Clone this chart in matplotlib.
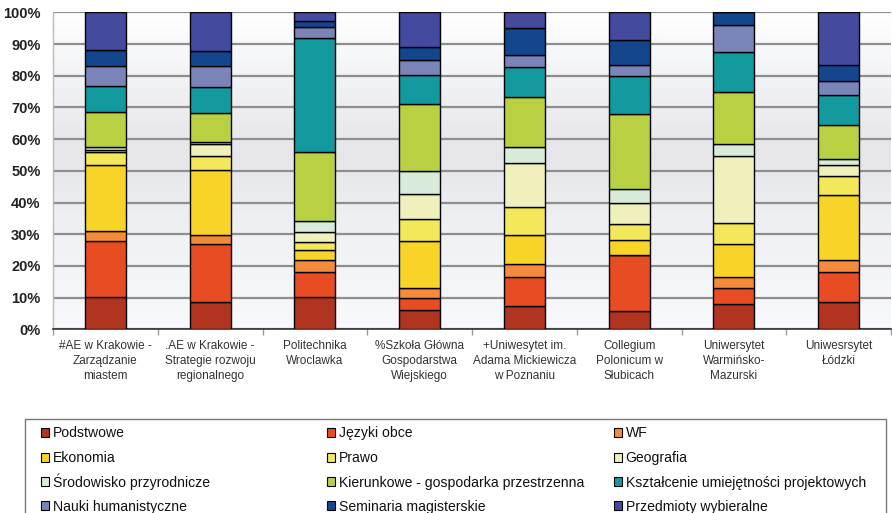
import numpy as np
import matplotlib
matplotlib.use("Agg")
import matplotlib.pyplot as plt
from matplotlib.patches import Rectangle, Patch
from matplotlib.colors import LinearSegmentedColormap

plt.rcParams['font.family'] = ['Liberation Sans', 'DejaVu Sans']

categories = [
    "#AE w Krakowie -\nZarządzanie\nmiastem",
    ".AE w Krakowie -\nStrategie rozwoju\nregionalnego",
    "Politechnika\nWroclawka",
    "%Szkoła Główna\nGospodarstwa\nWiejskiego",
    "+Uniwesytet im.\nAdama Mickiewicza\nw Poznaniu",
    "Collegium\nPolonicum w\nSłubicach",
    "Uniwersytet\nWarmińsko-\nMazurski",
    "Uniwesrsytet\nŁódzki",
]

series_names = [
    "Podstwowe", "Języki obce", "WF",
    "Ekonomia", "Prawo", "Geografia",
    "Środowisko przyrodnicze", "Kierunkowe - gospodarka przestrzenna",
    "Kształcenie umiejętności projektowych",
    "Nauki humanistyczne", "Seminaria magisterskie", "Przedmioty wybieralne",
]

podstawowe  = [10.2, 8.5, 10.2, 6.1, 7.4, 5.7, 7.9, 8.5]
jezyki      = [17.6, 18.3, 7.8, 3.9, 9.0, 17.6, 5.1, 9.5]
wf          = [3.2, 3.0, 4.0, 3.0, 4.2, 0.0, 3.4, 3.8]
ekonomia    = [20.8, 20.5, 3.0, 14.7, 9.1, 4.9, 10.6, 20.5]
prawo       = [4.0, 4.3, 2.4, 7.0, 9.0, 4.9, 6.4, 6.0]
geografia   = [0.7, 3.8, 3.4, 7.9, 13.9, 6.6, 21.2, 3.5]
srodowisko  = [1.0, 0.8, 3.5, 7.2, 4.9, 4.5, 3.8, 1.8]
kierunkowe  = [11.0, 9.1, 21.5, 21.4, 15.9, 23.8, 16.4, 11.0]
ksztalcenie = [8.2, 8.0, 36.0, 9.0, 9.2, 12.0, 12.6, 9.4]
nauki       = [6.4, 6.7, 3.7, 4.7, 3.8, 3.5, 8.5, 4.2]
seminaria   = [5.0, 4.9, 1.7, 4.0, 8.6, 7.8, 4.1, 5.1]
przedmioty  = [11.9, 12.1, 2.8, 11.1, 5.0, 8.7, 0.0, 16.7]

series_values = [podstawowe, jezyki, wf, ekonomia, prawo, geografia,
                 srodowisko, kierunkowe, ksztalcenie, nauki, seminaria, przedmioty]

colors = ["#B03420", "#E84C22", "#F48A3A",
          "#F8D428", "#F2E85A", "#F0F0BC",
          "#D8EAD8", "#B8D042", "#139A9E",
          "#7A84B8", "#14468E", "#444A9E"]

yticks = [0, 10, 20, 30, 40, 50, 60, 70, 80, 90, 100]
ytick_labels = ["0%", "10%", "20%", "30%", "40%", "50%", "60%", "70%", "80%", "90%", "100%"]

fig = plt.figure(figsize=(8.92, 5.13), dpi=100)
ax = fig.add_axes([53/892, 1 - 329.3/513, (891 - 53)/892, (329.3 - 12.3)/513])

# background gradient
cmap = LinearSegmentedColormap.from_list(
    "bg", [(0.0, "#F7F9FC"), (0.3, "#EFF1F5"), (0.55, "#E6E6EA"), (0.8, "#F2F3F6"), (1.0, "#FFFFFF")])
grad = np.linspace(0, 1, 256).reshape(-1, 1)
ax.imshow(grad, cmap=cmap, aspect="auto", extent=[-0.5, 7.5, 0, 100],
          origin="lower", zorder=0)

x = np.arange(len(categories))
bottom = np.zeros(len(categories))
for name, vals, c in zip(series_names, series_values, colors):
    v = np.array(vals)
    ax.bar(x, v, bottom=bottom, width=0.39, color=c, edgecolor="black",
           linewidth=1.0, label=name, zorder=3)
    bottom += v

ax.set_xlim(-0.5, 7.5)
ax.set_ylim(0, 100)
ax.set_yticks(yticks)
ax.set_yticklabels(ytick_labels, fontsize=10.5, fontweight="bold", color="#222222")
ax.yaxis.grid(True, color="#8E8E8E", linewidth=1.6, zorder=1)
ax.set_axisbelow(True)
ax.tick_params(axis="y", length=0, pad=9)

ax.set_xticks(x)
ax.set_xticklabels(categories, fontsize=8.5, color="#333333", linespacing=1.32)
ax.set_xticks(np.arange(-0.5, 8.0, 1.0), minor=True)
ax.tick_params(axis="x", which="major", length=0, pad=8)
ax.tick_params(axis="x", which="minor", length=4, color="#999999", width=1)

for s in ["top", "right"]:
    ax.spines[s].set_visible(False)
ax.spines["left"].set_color("#BBBBBB")
ax.spines["left"].set_linewidth(1.0)
ax.spines["bottom"].set_color("#333333")
ax.spines["bottom"].set_linewidth(1.2)

# legend frame
frame = Rectangle((25/892, -0.05), (886 - 25)/892, (1 - 419/513) + 0.05,
                  transform=fig.transFigure, facecolor="white",
                  edgecolor="#777777", linewidth=1.0, zorder=0)
fig.patches.append(frame)

handles = [Patch(facecolor=c, edgecolor="black", linewidth=0.8) for c in colors]
col_x = [41/892, 327/892, 614/892]
row_y = [432, 457, 481.5, 505.5]
for i, (h, name) in enumerate(zip(handles, series_names)):
    r, c = divmod(i, 3)
    fig.legend([h], [name], loc="lower left",
               bbox_to_anchor=(col_x[c], 1 - (row_y[r] + 8.2)/513),
               frameon=False, fontsize=10.1, handlelength=0.6, handleheight=0.6,
               handletextpad=0.22, borderaxespad=0, borderpad=0,
               labelcolor="#111111")

fig.savefig("out.png", dpi=100)
